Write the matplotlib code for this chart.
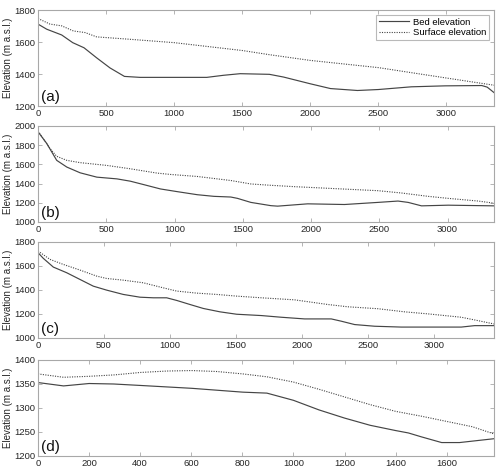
import matplotlib
matplotlib.use("Agg")
import matplotlib.pyplot as plt

plt.rcParams["font.family"] = ["Liberation Sans", "DejaVu Sans"]

# Panel (a)
a_bed_x = [0, 64, 174, 255, 338, 431, 529, 635, 750, 1000, 1240, 1363, 1485, 1700,
           1804, 2000, 2149, 2347, 2500, 2743, 2990, 3260, 3300, 3350]
a_bed_y = [1712, 1680, 1644, 1596, 1564, 1501, 1438, 1385, 1379, 1379, 1379, 1392, 1402, 1398,
           1381, 1339, 1309, 1297, 1303, 1320, 1326, 1328, 1318, 1284]
a_surf_x = [0, 88, 174, 260, 346, 431, 676, 1000, 1500, 1706, 2000, 2500, 3000, 3350]
a_surf_y = [1747, 1712, 1701, 1669, 1659, 1632, 1617, 1596, 1547, 1520, 1485, 1440, 1375, 1330]

# Panel (b)
b_bed_x = [0, 64, 137, 211, 309, 431, 578, 676, 775, 897, 1020, 1167, 1289, 1412, 1461,
           1559, 1706, 1755, 1975, 2245, 2490, 2637, 2711, 2809, 3005, 3340]
b_bed_y = [1940, 1818, 1642, 1572, 1512, 1467, 1449, 1425, 1389, 1344, 1316, 1284, 1267, 1260, 1246,
           1204, 1170, 1165, 1189, 1182, 1204, 1218, 1204, 1168, 1175, 1168]
b_surf_x = [0, 88, 137, 211, 309, 505, 676, 873, 971, 1167, 1412, 1559, 1706, 1877, 2123,
            2490, 2662, 2858, 3005, 3225, 3340]
b_surf_y = [1947, 1765, 1684, 1642, 1618, 1589, 1554, 1509, 1495, 1474, 1432, 1396, 1382, 1368, 1351,
            1326, 1302, 1267, 1246, 1218, 1196]

# Panel (c)
c_bed_x = [0, 40, 116, 217, 318, 419, 520, 646, 773, 874, 975, 1051, 1152, 1253, 1379, 1505,
           1692, 1843, 2020, 2222, 2298, 2399, 2551, 2753, 3207, 3308, 3455]
c_bed_y = [1711, 1664, 1591, 1544, 1488, 1432, 1399, 1363, 1340, 1335, 1335, 1313, 1279, 1246, 1218, 1198,
           1187, 1173, 1159, 1159, 1140, 1112, 1098, 1091, 1091, 1103, 1103]
c_surf_x = [0, 91, 192, 318, 444, 520, 646, 798, 949, 1051, 1202, 1354, 1505, 1692, 1944,
            2197, 2348, 2576, 2778, 2955, 3207, 3333, 3455]
c_surf_y = [1725, 1655, 1613, 1566, 1516, 1496, 1482, 1460, 1418, 1391, 1374, 1363, 1349, 1335, 1318,
            1279, 1260, 1244, 1218, 1201, 1173, 1145, 1117]

# Panel (d)
d_bed_x = [0, 100, 200, 296, 400, 602, 802, 896, 1000, 1100, 1200, 1300, 1400, 1450,
           1500, 1580, 1650, 1785]
d_bed_y = [1353, 1346, 1351, 1350, 1347, 1341, 1333, 1331, 1316, 1296, 1279, 1264, 1253, 1248,
           1240, 1228, 1228, 1236]
d_surf_x = [0, 100, 200, 300, 400, 505, 602, 700, 802, 896, 1000, 1100, 1200, 1300, 1400,
            1500, 1600, 1700, 1785]
d_surf_y = [1371, 1364, 1366, 1369, 1374, 1377, 1378, 1376, 1371, 1365, 1354, 1339, 1323, 1307, 1293,
            1283, 1272, 1261, 1246]

panels = [
    ("(a)", a_bed_x, a_bed_y, a_surf_x, a_surf_y, (0, 3350), (1200, 1800), 500, 200),
    ("(b)", b_bed_x, b_bed_y, b_surf_x, b_surf_y, (0, 3340), (1000, 2000), 500, 200),
    ("(c)", c_bed_x, c_bed_y, c_surf_x, c_surf_y, (0, 3455), (1000, 1800), 500, 200),
    ("(d)", d_bed_x, d_bed_y, d_surf_x, d_surf_y, (0, 1785), (1200, 1400), 200, 50),
]
bottoms = [0.7754, 0.5297, 0.2839, 0.0339]

LINE_COLOR = "#454545"
SPINE_COLOR = "#a8a8a8"
TEXT_COLOR = "#262626"

fig = plt.figure(figsize=(5.0, 4.72), dpi=100)

for (label, bx, by, sx, sy, xlim, ylim, xstep, ystep), bottom in zip(panels, bottoms):
    ax = fig.add_axes([0.076, bottom, 0.912, 0.2034])
    ax.plot(bx, by, color=LINE_COLOR, linewidth=0.85, label="Bed elevation")
    ax.plot(sx, sy, color=LINE_COLOR, linewidth=0.8, linestyle=(0, (1, 1.2)),
            label="Surface elevation")
    ax.set_xlim(*xlim)
    ax.set_ylim(*ylim)
    ax.set_xticks(range(0, int(xlim[1]) + 1, xstep))
    ax.set_yticks(range(ylim[0], ylim[1] + 1, ystep))
    ax.tick_params(direction="in", top=True, right=True, length=3, width=0.6,
                   labelsize=6.8, colors=SPINE_COLOR, labelcolor=TEXT_COLOR, pad=2)
    for sp in ax.spines.values():
        sp.set_color(SPINE_COLOR)
        sp.set_linewidth(0.8)
    ax.set_ylabel("Elevation (m a.s.l.)", fontsize=7, color=TEXT_COLOR)
    ax.yaxis.set_label_coords(-0.054, 0.5)
    ax.text(0.006, 0.02, label, transform=ax.transAxes, fontsize=11,
            color="#111111", ha="left", va="bottom")
    if label == "(a)":
        leg = ax.legend(loc="upper right", fontsize=6.8, frameon=True, fancybox=False,
                        handlelength=3.2, borderpad=0.3, labelspacing=0.2,
                        borderaxespad=0.5, handletextpad=0.4)
        leg.get_frame().set_edgecolor(SPINE_COLOR)
        leg.get_frame().set_linewidth(0.8)

fig.savefig("out.png", dpi=100)
plt.close(fig)
